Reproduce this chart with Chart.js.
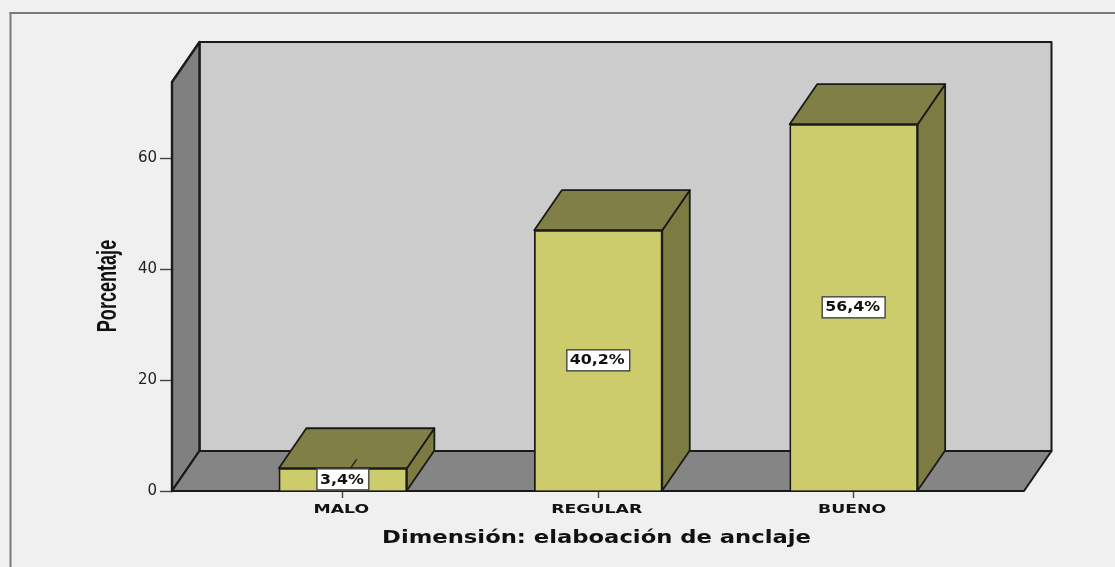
<!DOCTYPE html>
<html>
<head>
<meta charset="utf-8">
<style>
html,body{margin:0;padding:0;background:#fff;}
#wrap{position:relative;width:1115px;height:567px;overflow:hidden;}
canvas{display:block;}
</style>
<script src="https://cdn.jsdelivr.net/npm/chart.js@4"></script>
</head>
<body>
<div id="wrap"><canvas id="c" width="1115" height="567"></canvas></div>
<script>
const categories = ['MALO', 'REGULAR', 'BUENO'];
const barHeights = [4.1, 47, 66.1];           // bar heights
const barLabels = ['3,4%', '40,2%', '56,4%']; // printed on the bars
const yTicks = [0, 20, 40, 60];
const yTitle = 'Porcentaje';
const xTitle = 'Dimensión: elaboación de anclaje';

const DX = 27.5, DY = -40;
const INK = '#1a1a1a';

function poly(ctx, pts, fill, lw) {
  ctx.beginPath();
  pts.forEach((p, i) => i ? ctx.lineTo(p[0], p[1]) : ctx.moveTo(p[0], p[1]));
  ctx.closePath();
  if (fill) { ctx.fillStyle = fill; ctx.fill(); }
  ctx.lineWidth = lw || 1.8;
  ctx.strokeStyle = INK;
  ctx.lineJoin = 'round';
  ctx.stroke();
}

// text stretched horizontally, as in the reference's resampled picture
function wideText(ctx, t, x, y, sx, rot) {
  ctx.save();
  ctx.translate(x, y);
  if (rot) ctx.rotate(rot);
  ctx.scale(sx, 1);
  ctx.fillText(t, 0, 0);
  ctx.restore();
}

const frame3d = {
  id: 'frame3d',
  beforeDraw(chart) {
    const ctx = chart.ctx, W = chart.width, H = chart.height;
    ctx.save();
    ctx.fillStyle = '#f0f0f0';
    ctx.fillRect(0, 0, W, H);
    ctx.fillStyle = '#7a7a7a';
    ctx.fillRect(9.5, 12, W - 9.5, 2);
    ctx.fillRect(9.5, 12, 2, H - 12);
    ctx.restore();
  },
  beforeDatasetsDraw(chart) {
    const ctx = chart.ctx, a = chart.chartArea;
    const L = a.left, R = a.right, T = a.top, B = a.bottom;
    ctx.save();
    poly(ctx, [[L+DX,T+DY],[R+DX,T+DY],[R+DX,B+DY],[L+DX,B+DY]], '#cccccc', 2);
    poly(ctx, [[L,T],[L+DX,T+DY],[L+DX,B+DY],[L,B]], '#808080', 2.4);
    poly(ctx, [[L,B],[L+DX,B+DY],[R+DX,B+DY],[R,B]], '#858585', 2);
    const meta = chart.getDatasetMeta(0);
    meta.data.forEach(el => {
      const x0 = el.x - el.width/2, x1 = el.x + el.width/2, y = el.y, b = el.base;
      poly(ctx, [[x1,y],[x1+DX,y+DY],[x1+DX,b+DY],[x1,b]], '#7b7b42');
      poly(ctx, [[x0,y],[x0+DX,y+DY],[x1+DX,y+DY],[x1,y]], '#808046');
      // label leader running back through the bar
      const my = (y+b)/2;
      ctx.beginPath();
      ctx.moveTo(el.x, my);
      ctx.lineTo(el.x + DX/2, my + DY/2);
      ctx.lineWidth = 1.2;
      ctx.strokeStyle = INK;
      ctx.stroke();
    });
    ctx.restore();
  },
  afterDatasetsDraw(chart) {
    const ctx = chart.ctx, meta = chart.getDatasetMeta(0);
    ctx.save();
    ctx.font = 'bold 14px "DejaVu Sans"';
    ctx.textAlign = 'center';
    ctx.textBaseline = 'middle';
    meta.data.forEach((el, i) => {
      const t = barLabels[i];
      const my = (el.y + el.base)/2;
      const w = ctx.measureText(t).width * 1.13 + 8;
      const h = Math.min(21, el.base - el.y);
      ctx.fillStyle = '#ffffff';
      ctx.fillRect(el.x - w/2, my - h/2, w, h);
      ctx.lineWidth = 1.4;
      ctx.strokeStyle = '#444';
      ctx.strokeRect(el.x - w/2, my - h/2, w, h);
      ctx.fillStyle = '#111';
      wideText(ctx, t, el.x - 1, my + 0.5, 1.13);
    });
    ctx.restore();
  },
  afterDraw(chart) {
    const ctx = chart.ctx, sx = chart.scales.x;
    ctx.save();
    ctx.fillStyle = '#111';
    ctx.textAlign = 'center';
    ctx.textBaseline = 'alphabetic';
    ctx.font = 'bold 13px "DejaVu Sans"';
    sx.ticks.forEach(t => {
      wideText(ctx, t.label, sx.getPixelForValue(t.value) - 1.5, 512.5, 1.33);
    });
    ctx.font = 'bold 18px "DejaVu Sans"';
    wideText(ctx, xTitle, (chart.chartArea.left + chart.chartArea.right)/2 - 1.5, 543, 1.26);
    ctx.font = 'bold 28px "Liberation Sans"';
    wideText(ctx, yTitle, 115.5, (chart.chartArea.top + chart.chartArea.bottom)/2 - 0.5, 0.645, -Math.PI/2);
    ctx.restore();
  }
};

new Chart(document.getElementById('c'), {
  type: 'bar',
  data: {
    datasets: [{
      data: barHeights.map((v, i) => ({x: i, y: v})),
      backgroundColor: '#cccc6c',
      borderColor: INK,
      borderWidth: 1.8,
      barThickness: 128
    }]
  },
  plugins: [frame3d],
  options: {
    responsive: false,
    animation: false,
    events: [],
    layout: {padding: {left: 0, right: 91, top: 82, bottom: 0}},
    plugins: {legend: {display: false}, tooltip: {enabled: false}},
    scales: {
      x: {
        type: 'linear',
        offset: false,
        min: -0.669, max: 2.667,
        afterBuildTicks: s => { s.ticks = categories.map((_, i) => ({value: i})); },
        afterFit: s => { s.height = 76; },
        grid: {offset: false, drawOnChartArea: false, drawTicks: true, tickLength: 7, tickColor: '#444', tickWidth: 1.4},
        border: {display: false},
        ticks: {display: false, autoSkip: false, maxRotation: 0, callback: v => categories[v]}
      },
      y: {
        type: 'linear',
        min: 0, max: 73.7,
        afterBuildTicks: s => { s.ticks = yTicks.map(v => ({value: v})); },
        afterFit: s => { s.width = 172; },
        grid: {drawOnChartArea: false, drawTicks: true, tickLength: 12, tickColor: '#444', tickWidth: 1.4},
        border: {display: false},
        ticks: {
          padding: 3, color: '#222',
          font: {family: '"DejaVu Sans"', size: 15}
        }
      }
    }
  }
});
</script>
</body>
</html>
